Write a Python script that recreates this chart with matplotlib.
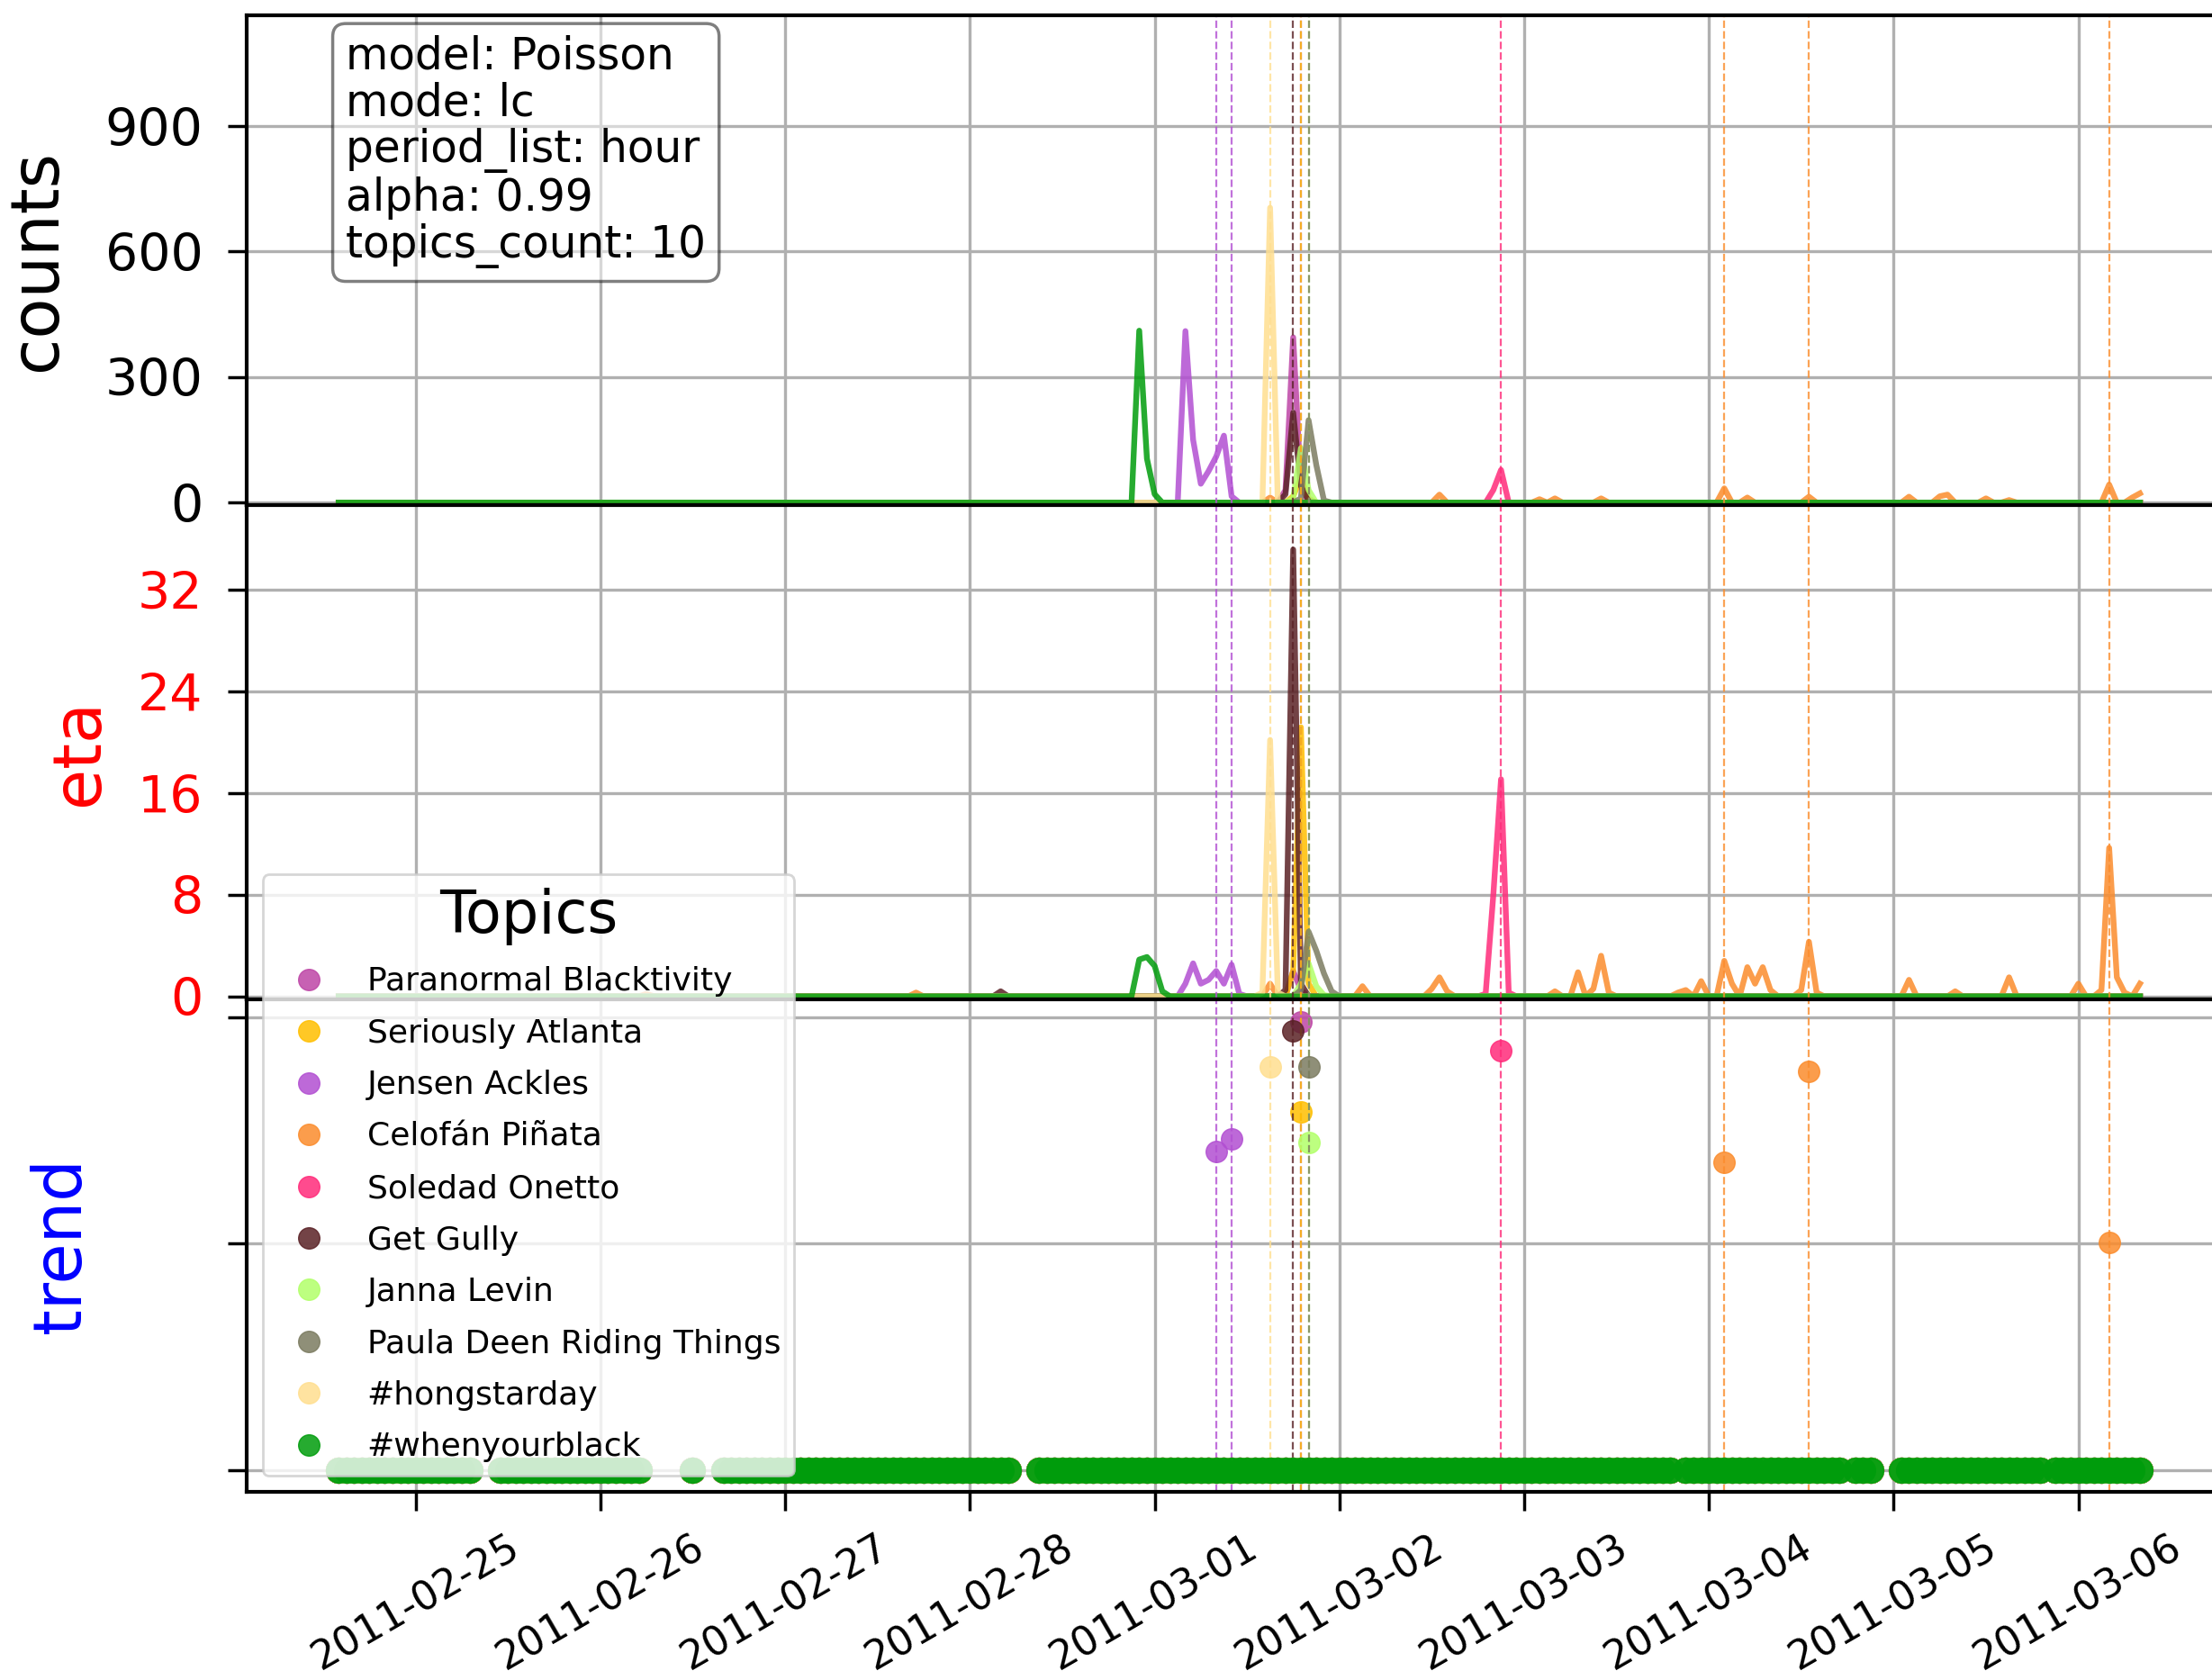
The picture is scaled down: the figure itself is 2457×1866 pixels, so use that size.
import numpy as np
import pandas as pd
import matplotlib
matplotlib.use("Agg")
import matplotlib.pyplot as plt
import matplotlib.dates as mdates

plt.rcParams["font.family"] = ["DejaVu Sans"]

# ---------------------------------------------------------------- data
START = "2011-02-24 14:00"          # first hourly bin
N_HOURS = 235                       # hourly bins up to 2011-03-06 08:00
XLIM = ("2011-02-24 02:03", "2011-03-06 19:42")

topics = ["Paranormal Blacktivity", "Seriously Atlanta", "Jensen Ackles",
          "Celofán Piñata", "Soledad Onetto", "Get Gully", "Janna Levin",
          "Paula Deen Riding Things", "#hongstarday", "#whenyourblack"]
colors = ["#bd45a6", "#ffbf00", "#b24fd2", "#fb8c2c", "#ff2b7a",
          "#5a2226", "#b2ff6a", "#7b7b60", "#ffdf90", "#009c0c"]

# hourly tweet counts (hour index -> count, zero elsewhere)
counts_paranormal = {123: 30, 124: 395, 125: 40}
counts_atlanta = {124: 15, 125: 60, 126: 10}
counts_jensen = {110: 410, 111: 150, 112: 45, 113: 75, 114: 110, 115: 160, 116: 15}
counts_celofan = {121: 12, 143: 19, 156: 8, 158: 10, 164: 10, 180: 34, 183: 12,
                  191: 14, 204: 14, 208: 15, 209: 19, 214: 10, 217: 6, 230: 43,
                  233: 12, 234: 22}
counts_soledad = {150: 30, 151: 78}
counts_gully = {123: 20, 124: 215, 125: 40, 126: 5}
counts_janna = {124: 10, 125: 130, 126: 30}
counts_paula = {125: 10, 126: 197, 127: 90, 128: 5}
counts_hongstarday = {121: 705}
counts_whenyourblack = {104: 411, 105: 105, 106: 20}

# hourly eta statistic (hour index -> eta, zero elsewhere)
eta_paranormal = {124: 2.0, 125: 0.5}
eta_atlanta = {124: 2.0, 125: 21.2, 126: 1.0}
eta_jensen = {110: 1.0, 111: 2.6, 112: 1.0, 113: 1.3, 114: 2.0, 115: 1.0,
              116: 2.5, 117: 0.2}
eta_celofan = {40: 0.2, 75: 0.3, 121: 1.0, 133: 0.8, 142: 0.6, 143: 1.5, 144: 0.4,
               158: 0.4, 161: 1.9, 163: 0.6, 164: 3.2, 165: 0.3, 174: 0.3,
               175: 0.5, 177: 1.2, 180: 2.8, 181: 1.0, 183: 2.3, 184: 1.0,
               185: 2.3, 186: 0.5, 190: 0.5, 191: 4.3, 192: 0.3, 204: 1.3,
               210: 0.4, 217: 1.5, 226: 1.0, 229: 0.5, 230: 11.7, 231: 1.5,
               232: 0.3, 234: 1.0}
eta_soledad = {149: 0.2, 150: 8.0, 151: 17.1, 152: 0.3}
eta_gully = {86: 0.4, 123: 0.5, 124: 35.2, 125: 1.0}
eta_janna = {125: 1.0, 126: 2.6, 127: 0.8, 128: 0.1}
eta_paula = {125: 0.5, 126: 5.1, 127: 3.6, 128: 1.8, 129: 0.4}
eta_hongstarday = {120: 0.3, 121: 20.2, 122: 0.3}
eta_whenyourblack = {104: 2.9, 105: 3.1, 106: 2.4, 107: 0.4}

# detected trend events (hour index -> trend score)
trend_paranormal = {125: 0.990}
trend_atlanta = {125: 0.791}
trend_jensen = {114: 0.703, 116: 0.732}
trend_celofan = {180: 0.679, 191: 0.881, 230: 0.502}
trend_soledad = {151: 0.926}
trend_gully = {124: 0.970}
trend_janna = {126: 0.723}
trend_paula = {126: 0.891}
trend_hongstarday = {121: 0.891}
trend_whenyourblack = {}

# hours without any trend evaluation
trend_missing_hours = [18, 19, 20, 40, 41, 42, 43, 44, 45, 47, 48, 49,
                       88, 89, 90, 174, 196, 200, 201, 202, 222]

info_text = ("model: Poisson\nmode: lc\nperiod_list: hour\n"
             "alpha: 0.99\ntopics_count: 10")

counts_all = [counts_paranormal, counts_atlanta, counts_jensen, counts_celofan,
              counts_soledad, counts_gully, counts_janna, counts_paula,
              counts_hongstarday, counts_whenyourblack]
eta_all = [eta_paranormal, eta_atlanta, eta_jensen, eta_celofan, eta_soledad,
           eta_gully, eta_janna, eta_paula, eta_hongstarday, eta_whenyourblack]
trend_all = [trend_paranormal, trend_atlanta, trend_jensen, trend_celofan,
             trend_soledad, trend_gully, trend_janna, trend_paula,
             trend_hongstarday, trend_whenyourblack]

# ---------------------------------------------------------------- helpers
times = pd.date_range(START, periods=N_HOURS, freq="h").to_pydatetime()


def hourly(sparse):
    arr = np.zeros(N_HOURS)
    for h, v in sparse.items():
        arr[h] = v
    return arr


def trend_baseline(events):
    """Zero trend score for every evaluated hour that is not an event."""
    arr = np.zeros(N_HOURS)
    arr[trend_missing_hours] = np.nan
    for h in events:
        arr[h] = np.nan
    return arr


# ---------------------------------------------------------------- figure
W, H = 2457, 1866
fig = plt.figure(figsize=(W / 100, H / 100), dpi=100)


def px_axes(top, bottom, left=274, right=2477):
    return fig.add_axes([left / W, 1 - bottom / H, (right - left) / W,
                         (bottom - top) / H])


ax_c = px_axes(17, 561)
ax_e = px_axes(561, 1109.5)
ax_t = px_axes(1109.5, 1657)
axes = [ax_c, ax_e, ax_t]

LW = 4.6
ALPHA = 0.85
for name, col, c, e in zip(topics, colors, counts_all, eta_all):
    ax_c.plot(times, hourly(c), color=col, lw=LW, alpha=ALPHA)
    ax_e.plot(times, hourly(e), color=col, lw=LW, alpha=ALPHA)

handles = []
for name, col, tr in zip(topics, colors, trend_all):
    ax_t.plot(times, trend_baseline(tr), ls="none", marker="o",
              markersize=20, color=col, alpha=0.95)
    hrs = list(tr.keys())
    h, = ax_t.plot([times[k] for k in hrs], [tr[k] for k in hrs], ls="none",
                   marker="o", markersize=17, color=col, alpha=0.85, label=name)
    handles.append(h)
    for hr in hrs:
        for ax in axes:
            ax.axvline(times[hr], color=col, ls="--", lw=1.6, alpha=0.8)

# ---------------------------------------------------------------- axes styling
for ax in axes:
    ax.set_xlim(pd.Timestamp(XLIM[0]), pd.Timestamp(XLIM[1]))
    ax.grid(True, color="#b0b0b0", lw=2.4)
    ax.xaxis.set_major_locator(mdates.DayLocator())
    ax.xaxis.set_major_formatter(mdates.DateFormatter("%Y-%m-%d"))
    for sp in ax.spines.values():
        sp.set_linewidth(3.0)
    ax.tick_params(axis="both", length=15, width=2.5)
    ax.tick_params(axis="y", pad=20)

ax_c.tick_params(axis="x", labelbottom=False)
ax_e.tick_params(axis="x", labelbottom=False)

ax_c.set_ylim(-6, 1165)
ax_c.set_yticks([0, 300, 600, 900])
ax_c.tick_params(axis="y", labelsize=41)
ax_c.set_ylabel("counts", fontsize=53)
ax_c.yaxis.set_label_coords(-0.089, 0.5)

ax_e.set_ylim(-0.2, 38.7)
ax_e.set_yticks([0, 8, 16, 24, 32])
ax_e.tick_params(axis="y", labelsize=41, labelcolor="red")
ax_e.set_ylabel("eta", fontsize=53, color="red")
ax_e.yaxis.set_label_coords(-0.0675, 0.5)

ax_t.set_ylim(-0.048, 1.041)
ax_t.set_yticks([0, 0.5, 1.0])
ax_t.set_yticklabels(["", "", ""])
ax_t.set_ylabel("trend", fontsize=53, color="blue")
ax_t.yaxis.set_label_coords(-0.0765, 0.5)
ax_t.tick_params(axis="x", labelsize=32, pad=14)
for lab in ax_t.get_xticklabels():
    lab.set_rotation(30)
    lab.set_ha("center")

ax_c.text(0.05, 0.96, info_text, transform=ax_c.transAxes, va="top",
          fontsize=35, linespacing=1.1,
          bbox=dict(boxstyle="round", facecolor="white", alpha=0.5, lw=2.5))

leg = ax_t.legend(handles=handles, loc="lower left", title="Topics",
                  fontsize=26, title_fontsize=47, framealpha=0.8,
                  labelspacing=0.65)
leg.get_frame().set_linewidth(2.0)

fig.savefig("out.png", dpi=100)
